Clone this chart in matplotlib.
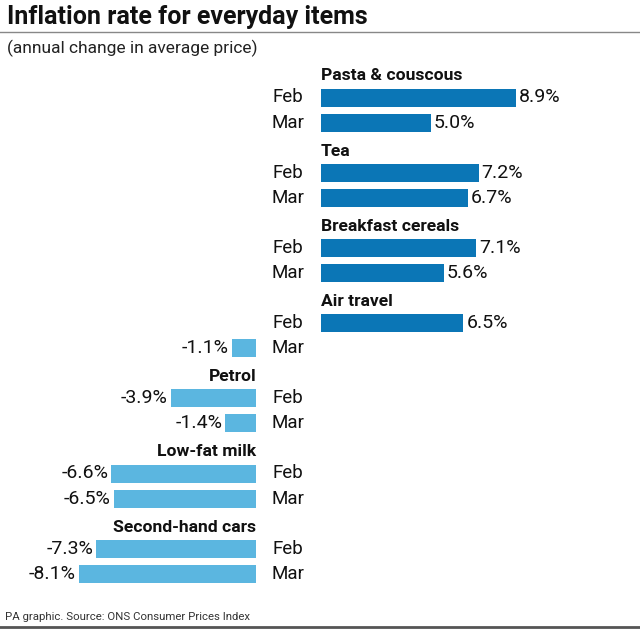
import matplotlib.pyplot as plt
from matplotlib.lines import Line2D

plt.rcParams['font.family'] = ['Roboto', 'DejaVu Sans']

# data
items = ['Pasta & couscous', 'Tea', 'Breakfast cereals', 'Air travel',
         'Petrol', 'Low-fat milk', 'Second-hand cars']
feb = [8.9, 7.2, 7.1, 6.5, -3.9, -6.6, -7.3]
mar = [5.0, 6.7, 5.6, -1.1, -1.4, -6.5, -8.1]
months = ['Feb', 'Mar']

POS = '#0b76b6'
NEG = '#5bb6e0'

W, H = 640, 629
fig = plt.figure(figsize=(W / 100, H / 100), dpi=100)

px_per_unit = 21.9
zero_pos = 321   # px where positive bars start
zero_neg = 256   # px where negative bars start

# positive axes: left at zero_pos, right edge of figure
ax_p = fig.add_axes([zero_pos / W, 0, 1 - zero_pos / W, 1])
ax_p.set_xlim(0, (W - zero_pos) / px_per_unit)
# negative axes: from left of figure to zero_neg
ax_n = fig.add_axes([0, 0, zero_neg / W, 1])
ax_n.set_xlim(-zero_neg / px_per_unit, 0)
for ax in (ax_p, ax_n):
    ax.set_ylim(H, 0)   # y measured in pixels from top
    ax.axis('off')
    ax.patch.set_alpha(0)

# layout of rows (pixels from top)
first_header = 76
group_step = 75.2
row_offsets = [21.5, 46.5]
bar_h = 18
label_x = 288 / W

for g, name in enumerate(items):
    y_head = first_header + g * group_step
    vals = [feb[g], mar[g]]
    if feb[g] >= 0:
        ax_p.text(0, y_head, name, ha='left', va='center',
                  fontsize=12.6, fontweight='bold', color='#111111')
    else:
        ax_n.text(0, y_head, name, ha='right', va='center',
                  fontsize=12.6, fontweight='bold', color='#111111')
    for m, v in enumerate(vals):
        y = y_head + row_offsets[m]
        ax_lbl = ax_p if v >= 0 else ax_n
        ax_lbl.barh(y, v, height=bar_h, color=POS if v >= 0 else NEG,
                    linewidth=0)
        if v >= 0:
            ax_p.text(v + 3 / px_per_unit, y, f'{v:.1f}%', ha='left',
                      va='center', fontsize=14, color='#111111')
        else:
            ax_n.text(v - 3 / px_per_unit, y, f'{v:.1f}%', ha='right',
                      va='center', fontsize=14, color='#111111')
        fig.text(label_x, 1 - y / H, months[m], ha='center', va='center',
                 fontsize=13.5, color='#111111')

# titles
fig.text(7 / W, 1 - 17 / H, 'Inflation rate for everyday items',
         fontsize=18, fontweight='bold', color='#111111', va='center')
fig.add_artist(Line2D([0, 1], [1 - 32 / H, 1 - 32 / H], color='#888888',
                      linewidth=1))
fig.text(7 / W, 1 - 48 / H, '(annual change in average price)',
         fontsize=12.5, color='#222222', va='center')

# footer
fig.text(5 / W, 1 - 617 / H, 'PA graphic. Source: ONS Consumer Prices Index',
         fontsize=8.2, color='#333333', va='center')
fig.add_artist(Line2D([0, 1], [1 - 627 / H, 1 - 627 / H], color='#555555',
                      linewidth=2))

fig.savefig('out.png', dpi=100, facecolor='white')
